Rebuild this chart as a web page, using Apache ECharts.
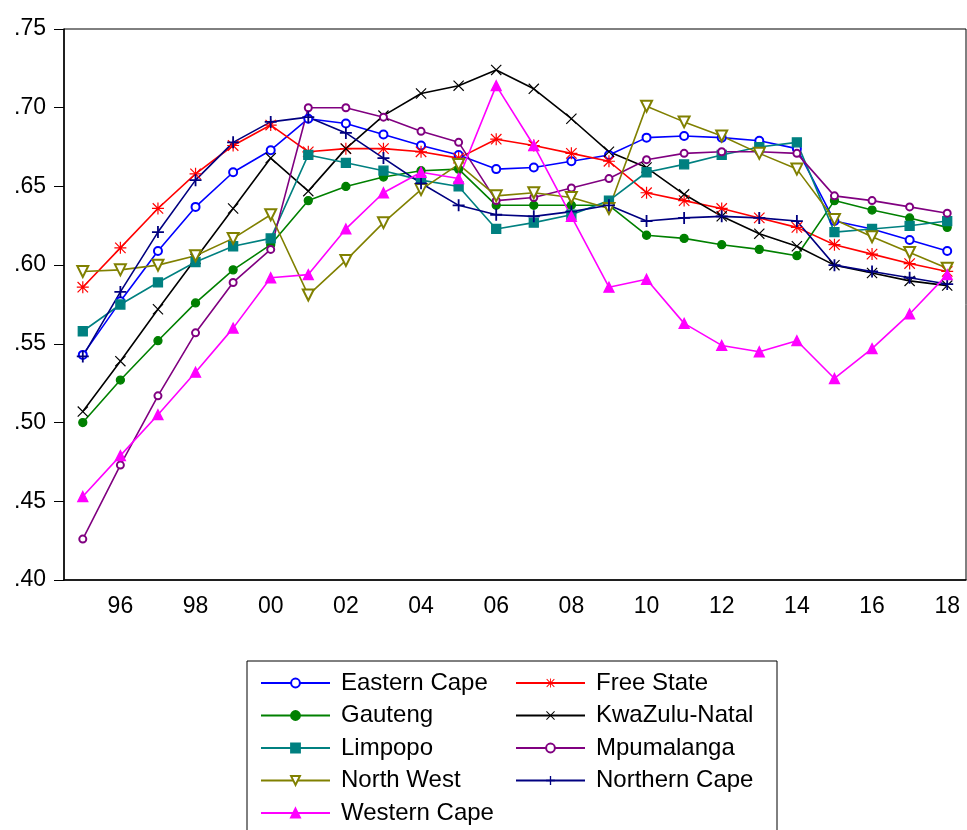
<!DOCTYPE html>
<html>
<head>
<meta charset="utf-8">
<script src="https://cdn.jsdelivr.net/npm/echarts@6/dist/echarts.min.js"></script>
<style>
  html, body { margin: 0; padding: 0; background: #fff; }
  #chart { width: 967px; height: 830px; }
</style>
</head>
<body>
<div id="chart"></div>
<script>

var years = ['1995','1996','1997','1998','1999','2000','2001','2002','2003','2004','2005','2006',
             '2007','2008','2009','2010','2011','2012','2013','2014','2015','2016','2017','2018'];

var easternCape  = [0.543,0.577,0.609,0.637,0.659,0.673,0.693,0.690,0.683,0.676,0.670,0.661,0.662,0.666,0.670,0.681,0.682,0.681,0.679,0.674,0.628,0.623,0.616,0.609];
var freeState    = [0.586,0.611,0.636,0.658,0.676,0.689,0.672,0.674,0.674,0.672,0.668,0.680,0.676,0.671,0.666,0.646,0.641,0.636,0.630,0.624,0.613,0.607,0.601,0.596];
var gauteng      = [0.500,0.527,0.552,0.576,0.597,0.613,0.641,0.650,0.656,0.660,0.661,0.638,0.638,0.638,0.638,0.619,0.617,0.613,0.610,0.606,0.641,0.635,0.630,0.624];
var kwazuluNatal = [0.507,0.539,0.572,0.604,0.636,0.668,0.647,0.674,0.695,0.709,0.714,0.724,0.712,0.693,0.672,0.662,0.645,0.631,0.620,0.612,0.600,0.595,0.590,0.587];
var limpopo      = [0.558,0.575,0.589,0.602,0.612,0.617,0.670,0.665,0.660,0.654,0.650,0.623,0.627,0.632,0.641,0.659,0.664,0.670,0.675,0.678,0.621,0.623,0.625,0.628];
var mpumalanga   = [0.426,0.473,0.517,0.557,0.589,0.610,0.700,0.700,0.694,0.685,0.678,0.641,0.643,0.649,0.655,0.667,0.671,0.672,0.672,0.671,0.644,0.641,0.637,0.633];
var northWest    = [0.596,0.597,0.600,0.606,0.617,0.632,0.581,0.603,0.627,0.648,0.664,0.644,0.646,0.643,0.636,0.701,0.691,0.682,0.671,0.661,0.629,0.618,0.608,0.598];
var northernCape = [0.542,0.583,0.621,0.654,0.678,0.691,0.694,0.684,0.668,0.652,0.638,0.632,0.631,0.634,0.638,0.628,0.630,0.631,0.630,0.628,0.600,0.596,0.592,0.588];
var westernCape  = [0.453,0.479,0.505,0.532,0.560,0.592,0.594,0.623,0.646,0.659,0.655,0.714,0.676,0.631,0.586,0.591,0.563,0.549,0.545,0.552,0.528,0.547,0.569,0.594];

var legendLeft  = ['Eastern Cape','Gauteng','Limpopo','North West','Western Cape'];
var legendRight = ['Free State','KwaZulu-Natal','Mpumalanga','Northern Cape'];

// marker shapes that echarts does not have
var plusPath  = 'path://M8.5,0H11.5V8.5H20V11.5H11.5V20H8.5V11.5H0V8.5H8.5Z';
var crossPath = 'path://M1.5,0L20,18.5L18.5,20L0,1.5Z M18.5,0L20,1.5L1.5,20L0,18.5Z';
var starPath  = 'path://M9,0H11V9H20V11H11V20H9V11H0V9H9Z M2,0.6L19.4,18L18,19.4L0.6,2Z M18,0.6L19.4,2L2,19.4L0.6,18Z';

var FONT = 'Liberation Sans, Arial, sans-serif';

var chart = echarts.init(document.getElementById('chart'), null, {renderer: 'canvas'});

function line(name, data, color, symbol, size, extra) {
    var s = {
        name: name,
        type: 'line',
        data: data,
        symbol: symbol,
        symbolSize: size,
        showAllSymbol: true,
        lineStyle: {color: color, width: 1.6},
        itemStyle: {color: color, borderColor: color, borderWidth: 1.3},
        emphasis: {disabled: true}
    };
    if (extra) for (var k in extra) s[k] = extra[k];
    return s;
}

var legendBase = {
    orient: 'vertical',
    top: 666,
    height: 300,
    itemWidth: 69,
    itemHeight: 11,
    itemGap: 8.5,
    selectedMode: false,
    textStyle: {fontFamily: FONT, fontSize: 24, color: '#000', padding: [0, 0, 0, 6]}
};

var option = {
    animation: false,
    backgroundColor: '#fff',
    grid: {left: 64, top: 29, width: 902, height: 551, show: true, borderColor: '#000', borderWidth: 1},
    xAxis: {
        type: 'category',
        data: years,
        boundaryGap: true,
        axisLine: {lineStyle: {color: '#000', width: 1.5}},
        axisTick: {interval: 0, length: 10, lineStyle: {color: '#000'}},
        axisLabel: {
            interval: function (i) { return i % 2 === 1; },
            formatter: function (v) { return v.slice(2); },
            fontFamily: FONT, fontSize: 23, color: '#000', margin: 15
        },
        splitLine: {show: false}
    },
    yAxis: {
        type: 'value',
        min: 0.40,
        max: 0.75,
        interval: 0.05,
        axisLine: {show: true, lineStyle: {color: '#000', width: 1.5}},
        axisTick: {show: true, length: 10, lineStyle: {color: '#000'}},
        axisLabel: {
            formatter: function (v) { return v.toFixed(2).replace(/^0/, ''); },
            fontFamily: FONT, fontSize: 23, color: '#000', margin: 18
        },
        splitLine: {show: false}
    },
    legend: [
        Object.assign({left: 255, data: legendLeft}, legendBase),
        Object.assign({left: 510, data: legendRight}, legendBase)
    ],
    graphic: [{
        type: 'rect',
        shape: {x: 247, y: 661, width: 530, height: 200},
        style: {fill: 'none', stroke: '#000', lineWidth: 1}
    }],
    series: [
        line('Eastern Cape', easternCape, '#0000FF', 'emptyCircle', 8),
        line('Free State', freeState, '#FF0000', starPath, 12, {itemStyle: {color: '#FF0000'}}),
        line('Gauteng', gauteng, '#008000', 'circle', 8),
        line('KwaZulu-Natal', kwazuluNatal, '#000000', crossPath, 11, {itemStyle: {color: '#000000'}}),
        line('Limpopo', limpopo, '#008080', 'rect', 9),
        line('Mpumalanga', mpumalanga, '#800080', 'emptyCircle', 7),
        line('North West', northWest, '#808000', 'emptyTriangle', 11, {symbolRotate: 180}),
        line('Northern Cape', northernCape, '#000080', plusPath, 12, {itemStyle: {color: '#000080'}}),
        line('Western Cape', westernCape, '#FF00FF', 'triangle', 10)
    ]
};

chart.setOption(option);
</script>
</body>
</html>
